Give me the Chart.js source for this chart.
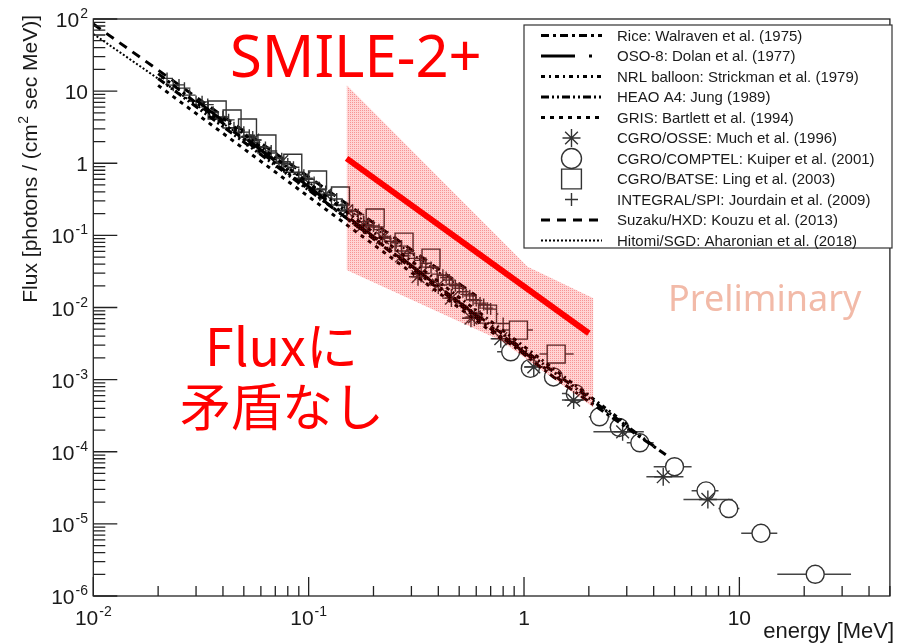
<!DOCTYPE html>
<html><head><meta charset="utf-8">
<script src="https://cdn.jsdelivr.net/npm/chart.js@4.4.1/dist/chart.umd.min.js"></script>
<style>html,body{margin:0;padding:0;background:#fff;}canvas{display:block;}</style>
</head><body>
<canvas id="c" width="904" height="644"></canvas>
<script>
// ---------------- data ----------------
const xTickVals = [0.01, 0.1, 1, 10];
const xTickBase = ['10', '10', '1', '10'];
const xTickExp  = ['-2', '-1', '', ''];
const yTickVals = [1e-6, 1e-5, 1e-4, 1e-3, 1e-2, 1e-1, 1, 10, 100];
const yTickBase = ['10', '10', '10', '10', '10', '10', '1', '10', '10'];
const yTickExp  = ['-6', '-5', '-4', '-3', '-2', '-1', '', '', '2'];

// SMILE-2+ best fit and band
const smileE = [0.15, 2.0];
const smileF = [1.17, 4.4e-3];
const bandUpperE = [0.15, 1.04, 2.1];
const bandUpperF = [12.2, 0.0367, 0.0134];
const bandLowerE = [0.15, 0.78, 2.1];
const bandLowerF = [0.033, 3.5e-3, 4.1e-4];

// power-law model lines
const riceE = [0.02, 1.37, 4.7];   const riceF = [17.5, 1.09e-3, 8.5e-5];
const osoE  = [0.03, 1.5];         const osoF  = [7.5, 9.5e-4];
const nrlE  = [0.04, 3.0];         const nrlF  = [4.2, 2.4e-4];
const heaoE = [0.02, 4.0];         const heaoF = [15, 1.2e-4];
const grisE = [0.02, 0.8];         const grisF = [12, 3.5e-3];
const suzakuE = [0.01, 0.6];       const suzakuF = [85, 0.0145];
const hitomiE = [0.01, 0.6];       const hitomiF = [62, 0.0135];

// CGRO/OSSE
const osseE  = [0.055, 0.075, 0.095, 0.12, 0.15, 0.18, 0.22, 0.27, 0.322, 0.333, 0.40, 0.46, 0.567, 0.588, 0.78, 1.11, 1.70, 2.87, 4.43, 7.14];
const osseF  = [2.1, 1.05, 0.62, 0.37, 0.22, 0.14, 0.092, 0.052, 0.0267, 0.0297, 0.0205, 0.0135, 0.0071, 0.0074, 0.0037, 0.0015, 5.2e-4, 1.89e-4, 4.5e-5, 2.18e-5];
const osseLo = [0.05, 0.07, 0.09, 0.11, 0.14, 0.17, 0.2, 0.25, 0.3, 0.31, 0.37, 0.43, 0.52, 0.55, 0.7, 1.0, 1.5, 2.1, 3.7, 5.5];
const osseHi = [0.06, 0.08, 0.1, 0.13, 0.16, 0.19, 0.24, 0.29, 0.34, 0.36, 0.43, 0.5, 0.61, 0.63, 0.87, 1.25, 1.9, 3.6, 5.5, 9.3];

// CGRO/COMPTEL
const comptelE  = [0.867, 1.07, 1.37, 1.73, 2.24, 2.77, 3.45, 5.0, 7.0, 8.93, 12.6, 22.5];
const comptelF  = [2.43e-3, 1.43e-3, 1.09e-3, 6.4e-4, 3.05e-4, 2.17e-4, 1.33e-4, 6.2e-5, 2.87e-5, 1.63e-5, 7.4e-6, 2.0e-6];
const comptelLo = [0.75, 1.0, 1.25, 1.5, 2.0, 2.5, 3.0, 4.0, 6.0, 8.0, 10.2, 15];
const comptelHi = [1.0, 1.15, 1.5, 2.0, 2.5, 3.0, 4.0, 6.0, 8.0, 10.0, 15, 33];

// CGRO/BATSE
const batseE  = [0.0376, 0.0441, 0.052, 0.064, 0.0844, 0.110, 0.1405, 0.2037, 0.2773, 0.370, 0.677, 0.942, 1.41];
const batseF  = [5.47, 4.10, 3.08, 1.85, 1.0, 0.585, 0.351, 0.174, 0.0807, 0.0484, 8.1e-3, 4.86e-3, 2.26e-3];
const batseLo = [null, null, null, null, null, null, null, null, null, null, 0.60, 0.80, 1.18];
const batseHi = [null, null, null, null, null, null, null, null, null, null, 0.76, 1.10, 1.70];

// INTEGRAL/SPI
const spiE = [0.022, 0.0235, 0.025, 0.0265, 0.028, 0.030, 0.032, 0.034, 0.036, 0.038, 0.040, 0.0425, 0.045, 0.0475,
              0.050, 0.053, 0.056, 0.059, 0.063, 0.067, 0.071, 0.075, 0.080, 0.085, 0.090, 0.095, 0.100, 0.106,
              0.113, 0.120, 0.127, 0.135, 0.143, 0.151, 0.160, 0.170, 0.180, 0.190, 0.200, 0.212, 0.225, 0.240,
              0.255, 0.270, 0.290, 0.310, 0.330, 0.350, 0.370, 0.395, 0.420, 0.435, 0.450, 0.465, 0.480, 0.500,
              0.520, 0.540, 0.560, 0.580, 0.600, 0.625, 0.650, 0.675, 0.700, 0.800];
const spiF = [15.0, 12.1, 12.2, 11.0, 8.8, 7.2, 7.1, 6.5, 5.1, 4.3, 4.4, 4.0, 3.1, 2.7,
              2.7, 2.45, 1.95, 1.70, 1.65, 1.48, 1.18, 1.0, 0.98, 0.88, 0.70, 0.61, 0.60, 0.54,
              0.43, 0.37, 0.36, 0.32, 0.26, 0.225, 0.22, 0.195, 0.155, 0.138, 0.135, 0.12, 0.097, 0.083,
              0.079, 0.071, 0.056, 0.048, 0.045, 0.041, 0.036, 0.029, 0.028, 0.026, 0.024, 0.021, 0.020, 0.0185,
              0.0165, 0.0152, 0.0145, 0.0128, 0.0125, 0.0115, 0.011, 0.0098, 0.0095, 0.006];

// ---------------- helpers ----------------
const pts = (E, F) => E.map((x, i) => ({x: x, y: F[i]}));
const FONT = '"Liberation Sans", Arial, sans-serif';

function bandPattern() {
  const c = document.createElement('canvas'); c.width = 2; c.height = 2;
  const g = c.getContext('2d');
  g.fillStyle = 'rgba(255,0,0,0.17)'; g.fillRect(0, 0, 2, 2);
  g.clearRect(0, 0, 1, 1);
  g.fillStyle = 'rgba(235,0,0,0.42)'; g.fillRect(0, 0, 1, 1);
  return g.createPattern(c, 'repeat');
}

function lineDs(label, E, F, dash, width) {
  return {label: label, kind: 'line', data: pts(E, F), showLine: true, borderColor: '#000',
    borderWidth: width || 3, borderDash: dash, pointRadius: 0, fill: false};
}
function markDs(label, E, F, style, r, lo, hi, gap) {
  return {label: label, kind: 'mark', data: pts(E, F), showLine: false, pointStyle: style,
    pointRadius: r, pointBorderColor: '#333', pointBackgroundColor: 'rgba(0,0,0,0)',
    pointBorderWidth: 1.4, errLo: lo, errHi: hi, errGap: gap || 0};
}

const datasets = [
  {label: 'SMILE', data: pts(smileE, smileF), showLine: true, borderColor: '#ff0000', borderWidth: 6, pointRadius: 0, fill: false, order: -3},
  {label: 'bandU', data: pts(bandUpperE, bandUpperF), showLine: true, borderWidth: 0, borderColor: 'rgba(0,0,0,0)', pointRadius: 0, fill: '+1', backgroundColor: bandPattern(), order: -2},
  {label: 'bandL', data: pts(bandLowerE, bandLowerF), showLine: true, borderWidth: 0, borderColor: 'rgba(0,0,0,0)', pointRadius: 0, fill: false, order: -2},
  lineDs('Rice: Walraven et al. (1975)', riceE, riceF, [8, 4, 3, 4]),
  lineDs('OSO-8: Dolan et al. (1977)', osoE, osoF, [34, 14, 3, 14]),
  lineDs('NRL balloon: Strickman et al. (1979)', nrlE, nrlF, [4, 4, 2, 4]),
  lineDs('HEAO A4: Jung (1989)', heaoE, heaoF, [8, 3, 2, 3, 2, 3]),
  lineDs('GRIS: Bartlett et al. (1994)', grisE, grisF, [4, 5]),
  markDs('CGRO/OSSE: Much et al. (1996)', osseE, osseF, 'star', 9, osseLo, osseHi, 0),
  markDs('CGRO/COMPTEL: Kuiper et al. (2001)', comptelE, comptelF, 'circle', 9, comptelLo, comptelHi, 9),
  markDs('CGRO/BATSE: Ling et al. (2003)', batseE, batseF, 'rect', 12.7, batseLo, batseHi, 9),
  markDs('INTEGRAL/SPI: Jourdain et al. (2009)', spiE, spiF, 'cross', 6, null, null, 0),
  lineDs('Suzaku/HXD: Kouzu et al. (2013)', suzakuE, suzakuF, [9, 7]),
  lineDs('Hitomi/SGD: Aharonian et al. (2018)', hitomiE, hitomiF, [2, 2], 2)
];

// error bars through the scales
const errPlugin = {
  id: 'errbars',
  beforeDatasetsDraw(chart) {
    const {ctx, chartArea: a, scales: {x, y}} = chart;
    ctx.save();
    ctx.beginPath(); ctx.rect(a.left, a.top, a.right - a.left, a.bottom - a.top); ctx.clip();
    ctx.strokeStyle = '#444'; ctx.lineWidth = 1.5;
    chart.data.datasets.forEach(ds => {
      if (!ds.errLo) return;
      ds.data.forEach((p, i) => {
        if (ds.errLo[i] == null) return;
        const cx = x.getPixelForValue(p.x), cy = y.getPixelForValue(p.y);
        const l = x.getPixelForValue(ds.errLo[i]), h = x.getPixelForValue(ds.errHi[i]);
        const g = ds.errGap;
        ctx.beginPath();
        if (l < cx - g) { ctx.moveTo(l, cy); ctx.lineTo(cx - g, cy); }
        if (h > cx + g) { ctx.moveTo(cx + g, cy); ctx.lineTo(h, cy); }
        ctx.stroke();
      });
    });
    ctx.restore();
  }
};

function richWidth(ctx, base, exp, f1, f2) {
  ctx.font = f1; let w = ctx.measureText(base).width;
  if (exp) { ctx.font = f2; w += ctx.measureText(exp).width + 1; }
  return w;
}
function drawRich(ctx, base, exp, left, baseline, f1, f2) {
  ctx.textAlign = 'left'; ctx.font = f1; ctx.fillText(base, left, baseline);
  const w = ctx.measureText(base).width;
  if (exp) { ctx.font = f2; ctx.fillText(exp, left + w + 1, baseline - 9); }
}

const axisPlugin = {
  id: 'rootaxes',
  afterDatasetsDraw(chart) {
    const {ctx, chartArea: a, scales: {x, y}} = chart;
    ctx.save();
    ctx.strokeStyle = '#222'; ctx.lineWidth = 1.3;
    ctx.strokeRect(a.left, a.top, a.right - a.left, a.bottom - a.top);
    ctx.beginPath();
    for (let d = -6; d <= 2; d++) {
      const py = y.getPixelForValue(Math.pow(10, d));
      ctx.moveTo(a.left, py); ctx.lineTo(a.left + 24, py);
      if (d < 2) for (let k = 2; k <= 9; k++) {
        const q = y.getPixelForValue(k * Math.pow(10, d));
        ctx.moveTo(a.left, q); ctx.lineTo(a.left + 12, q);
      }
    }
    for (let d = -2; d <= 1; d++) {
      const px = x.getPixelForValue(Math.pow(10, d));
      ctx.moveTo(px, a.bottom); ctx.lineTo(px, a.bottom - 19);
      for (let k = 2; k <= 9; k++) {
        const v = k * Math.pow(10, d);
        if (v > x.max) break;
        const q = x.getPixelForValue(v);
        ctx.moveTo(q, a.bottom); ctx.lineTo(q, a.bottom - 10);
      }
    }
    ctx.stroke();
    // tick labels
    const f1 = '21px ' + FONT, f2 = '14px ' + FONT;
    ctx.fillStyle = '#1a1a1a'; ctx.textBaseline = 'alphabetic';
    yTickVals.forEach((v, i) => {
      const py = y.getPixelForValue(v);
      const w = richWidth(ctx, yTickBase[i], yTickExp[i], f1, f2);
      drawRich(ctx, yTickBase[i], yTickExp[i], 88 - w, py + 8, f1, f2);
    });
    xTickVals.forEach((v, i) => {
      const px = x.getPixelForValue(v);
      const w = richWidth(ctx, xTickBase[i], xTickExp[i], f1, f2);
      drawRich(ctx, xTickBase[i], xTickExp[i], px - w / 2, 625, f1, f2);
    });
    // axis titles
    ctx.font = '22px ' + FONT; ctx.textAlign = 'right';
    ctx.fillText('energy [MeV]', 894, 638);
    ctx.save();
    ctx.translate(37, 15); ctx.rotate(-Math.PI / 2);
    const fT = '21px ' + FONT, fS = '14px ' + FONT;
    const p1 = 'Flux [photons / (cm', p2 = '2', p3 = ' sec MeV)]';
    ctx.font = fT; const w1 = ctx.measureText(p1).width, w3 = ctx.measureText(p3).width;
    ctx.font = fS; const w2 = ctx.measureText(p2).width;
    const tot = w1 + w2 + w3 + 1;
    ctx.textAlign = 'left';
    ctx.font = fT; ctx.fillText(p1, -tot, 0);
    ctx.font = fS; ctx.fillText(p2, -tot + w1 + 0.5, -9);
    ctx.font = fT; ctx.fillText(p3, -tot + w1 + w2 + 1, 0);
    ctx.restore();
    ctx.restore();
  }
};

const textPlugin = {
  id: 'notes',
  afterDraw(chart) {
    const ctx = chart.ctx;
    ctx.save();
    ctx.textAlign = 'left'; ctx.textBaseline = 'alphabetic';
    ctx.fillStyle = '#ff0000';
    ctx.font = '58px "Noto Sans", sans-serif';
    ctx.fillText('SMILE-2+', 230, 77);
    ctx.font = '52px "Noto Sans CJK JP", sans-serif';
    ctx.fillText('Fluxに', 205, 366);
    ctx.font = '51px "Noto Sans CJK JP", sans-serif';
    ctx.fillText('矛盾なし', 180, 426);
    ctx.fillStyle = 'rgb(242,186,168)';
    ctx.font = '36px "Noto Sans", sans-serif';
    ctx.fillText('Preliminary', 668, 311);
    ctx.restore();
  }
};

function drawMarker(ctx, style, r, cx, cy) {
  ctx.beginPath();
  if (style === 'circle') ctx.arc(cx, cy, r, 0, 2 * Math.PI);
  else if (style === 'rect') { const s = r * Math.SQRT1_2; ctx.rect(cx - s, cy - s, 2 * s, 2 * s); }
  else if (style === 'cross') { ctx.moveTo(cx - r, cy); ctx.lineTo(cx + r, cy); ctx.moveTo(cx, cy - r); ctx.lineTo(cx, cy + r); }
  else if (style === 'star') {
    const d = r * Math.SQRT1_2;
    ctx.moveTo(cx - r, cy); ctx.lineTo(cx + r, cy); ctx.moveTo(cx, cy - r); ctx.lineTo(cx, cy + r);
    ctx.moveTo(cx - d, cy - d); ctx.lineTo(cx + d, cy + d); ctx.moveTo(cx - d, cy + d); ctx.lineTo(cx + d, cy - d);
  }
  ctx.stroke();
}

const legendPlugin = {
  id: 'rootlegend',
  afterDraw(chart) {
    const ctx = chart.ctx;
    const items = chart.data.datasets.filter(d => d.kind);
    const bx = 524, by = 25, bw = 368, bh = 223;
    ctx.save();
    ctx.fillStyle = '#fff'; ctx.fillRect(bx, by, bw, bh);
    ctx.strokeStyle = '#333'; ctx.lineWidth = 1.2; ctx.strokeRect(bx, by, bw, bh);
    const legR = {star: 9, circle: 10, rect: 14, cross: 6.5};
    items.forEach((d, i) => {
      const cy = 35.5 + i * 20.5;
      if (d.kind === 'line') {
        ctx.save();
        ctx.strokeStyle = '#000'; ctx.lineWidth = d.borderWidth; ctx.setLineDash(d.borderDash);
        ctx.beginPath(); ctx.moveTo(541, cy); ctx.lineTo(602, cy); ctx.stroke();
        ctx.restore();
      } else {
        ctx.strokeStyle = '#333'; ctx.lineWidth = 1.4;
        drawMarker(ctx, d.pointStyle, legR[d.pointStyle], 571.5, cy);
      }
      ctx.fillStyle = '#1a1a1a'; ctx.font = '15px ' + FONT;
      ctx.textAlign = 'left'; ctx.textBaseline = 'middle';
      ctx.fillText(d.label, 617, cy + 1);
    });
    ctx.restore();
  }
};

new Chart(document.getElementById('c').getContext('2d'), {
  type: 'scatter',
  data: {datasets: datasets},
  options: {
    responsive: false, animation: false, devicePixelRatio: 1,
    layout: {padding: {left: 0, right: 9, top: 19, bottom: 0}},
    plugins: {legend: {display: false}, tooltip: {enabled: false}},
    scales: {
      x: {type: 'logarithmic', min: 0.01, max: 50, grid: {display: false}, border: {display: false},
          ticks: {display: false}, afterFit: s => { s.height = 48; }},
      y: {type: 'logarithmic', min: 1e-6, max: 100, grid: {display: false}, border: {display: false},
          ticks: {display: false}, afterFit: s => { s.width = 93.3; }}
    }
  },
  plugins: [errPlugin, axisPlugin, textPlugin, legendPlugin]
});
</script>
</body></html>
